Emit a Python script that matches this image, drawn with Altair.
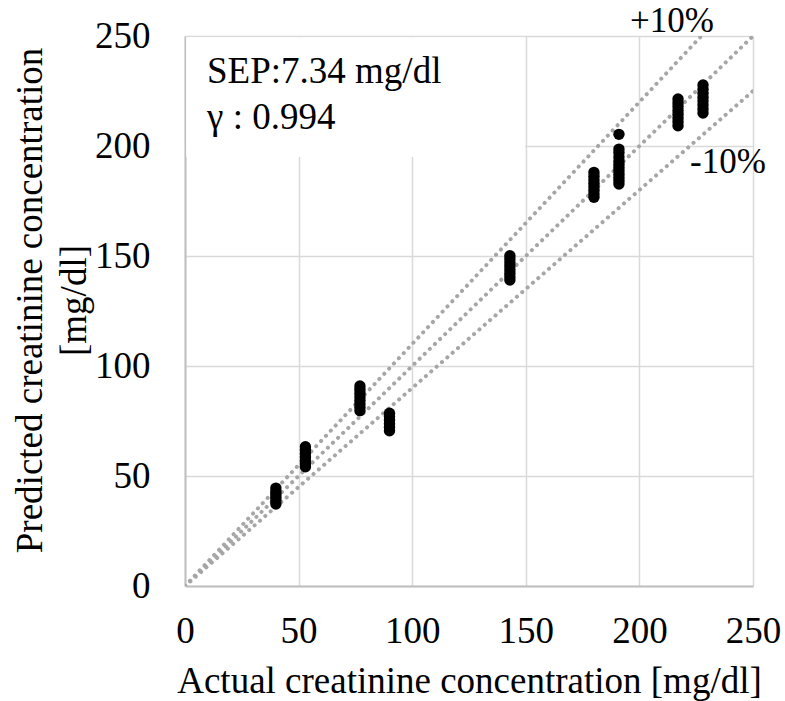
import altair as alt
import pandas as pd

# ---- data ----
actual = (
    [40] * 6
    + [53] * 7
    + [77] * 8
    + [90] * 6
    + [143] * 8
    + [180] * 8
    + [191] * 12
    + [217] * 8
    + [228] * 8
)
predicted = (
    [37.3, 38.8, 40.2, 41.6, 43.0, 44.5]
    + [54.2, 55.6, 57.0, 58.6, 60.2, 61.8, 63.3]
    + [79.7, 81.2, 82.8, 84.4, 86.0, 87.6, 89.3, 90.9]
    + [70.6, 72.2, 73.8, 75.4, 77.0, 78.5]
    + [139.1, 140.6, 142.2, 143.8, 145.4, 147.0, 148.6, 150.1]
    + [176.7, 178.3, 179.9, 181.5, 183.1, 184.7, 186.3, 188.0]
    + [182.7, 184.2, 185.7, 187.2, 188.7, 190.2, 191.7, 193.2, 195.0, 197.0, 198.6, 205.3]
    + [209.2, 211.0, 212.7, 214.4, 216.1, 217.9, 219.6, 221.4]
    + [215.0, 216.8, 218.6, 220.4, 222.2, 224.0, 225.8, 227.7]
)
ticks = [0, 50, 100, 150, 200, 250]
ratios = [1.0, 1.1, 0.9]
ratio_labels = ["+10%", "-10%"]
ratio_label_x = [214.3, 239.0]
ratio_label_y = [257.0, 192.7]
stats_text = ["SEP:7.34 mg/dl", "γ : 0.994"]
stats_x = [9.7, 9.7]
stats_y = [233.6, 212.7]

FONT = "Liberation Serif"
FS = 37
AXMAX = ticks[-1]

pts = pd.DataFrame({"actual": actual, "predicted": predicted})
lines = pd.DataFrame(
    [{"r": r, "x": x, "y": r * x} for r in ratios for x in (0, AXMAX)]
)
lbl = pd.DataFrame({"t": ratio_labels, "x": ratio_label_x, "y": ratio_label_y})
stats = pd.DataFrame({"t": stats_text, "x": stats_x, "y": stats_y})
box = pd.DataFrame({"x": [0.5], "x2": [149.6], "y": [195.0], "y2": [249.4]})

xsc = alt.Scale(domain=[0, AXMAX], nice=False)
ysc = alt.Scale(domain=[0, AXMAX], nice=False)

xaxis = alt.Axis(
    values=ticks, title="Actual creatinine concentration  [mg/dl]",
    labelFont=FONT, labelFontSize=FS, labelColor="black", labelPadding=27,
    titleFont=FONT, titleFontSize=FS, titleFontWeight="normal", titleColor="black",
    titlePadding=14, ticks=False, domainColor="#bfbfbf", domainWidth=2,
    gridColor="#d9d9d9", gridWidth=1.5, labelFlush=False,
)
yaxis = alt.Axis(
    values=ticks, title=["Predicted creatinine concentration", "[mg/dl]"],
    labelFont=FONT, labelFontSize=FS, labelColor="black", labelPadding=35,
    titleFont=FONT, titleFontSize=FS, titleFontWeight="normal", titleColor="black",
    titlePadding=1, titleLineHeight=44, titleY=264, ticks=False,
    domainColor="#bfbfbf", domainWidth=2,
    gridColor="#d9d9d9", gridWidth=1.5, labelFlush=False,
)

ref = alt.Chart(lines).mark_line(
    color="#a6a6a6", strokeWidth=4, strokeDash=[0.1, 7], strokeCap="round", clip=True
).encode(
    x=alt.X("x:Q", scale=xsc, axis=xaxis),
    y=alt.Y("y:Q", scale=ysc, axis=yaxis),
    detail="r:N",
)

rect = alt.Chart(box).mark_rect(color="white").encode(
    x=alt.X("x:Q", scale=xsc), x2="x2", y=alt.Y("y:Q", scale=ysc), y2="y2"
)

dots = alt.Chart(pts).mark_circle(size=130, color="black", opacity=1).encode(
    x=alt.X("actual:Q", scale=xsc), y=alt.Y("predicted:Q", scale=ysc)
)

rlbl = alt.Chart(lbl).mark_text(
    font=FONT, fontSize=35, color="black", align="center", baseline="middle", clip=False
).encode(x=alt.X("x:Q", scale=xsc), y=alt.Y("y:Q", scale=ysc), text="t:N")

stx = alt.Chart(stats).mark_text(
    font=FONT, fontSize=FS, color="black", align="left", baseline="middle"
).encode(x=alt.X("x:Q", scale=xsc), y=alt.Y("y:Q", scale=ysc), text="t:N")

chart = alt.layer(ref, rect, dots, rlbl, stx).properties(
    width=568, height=550,
    autosize=alt.AutoSizeParams(type="none"),
    padding={"left": 185, "top": 36, "right": 32, "bottom": 115},
    background="white",
).configure_view(stroke=None)

chart.save("out.html", embed_options={"renderer": "svg", "actions": False})
